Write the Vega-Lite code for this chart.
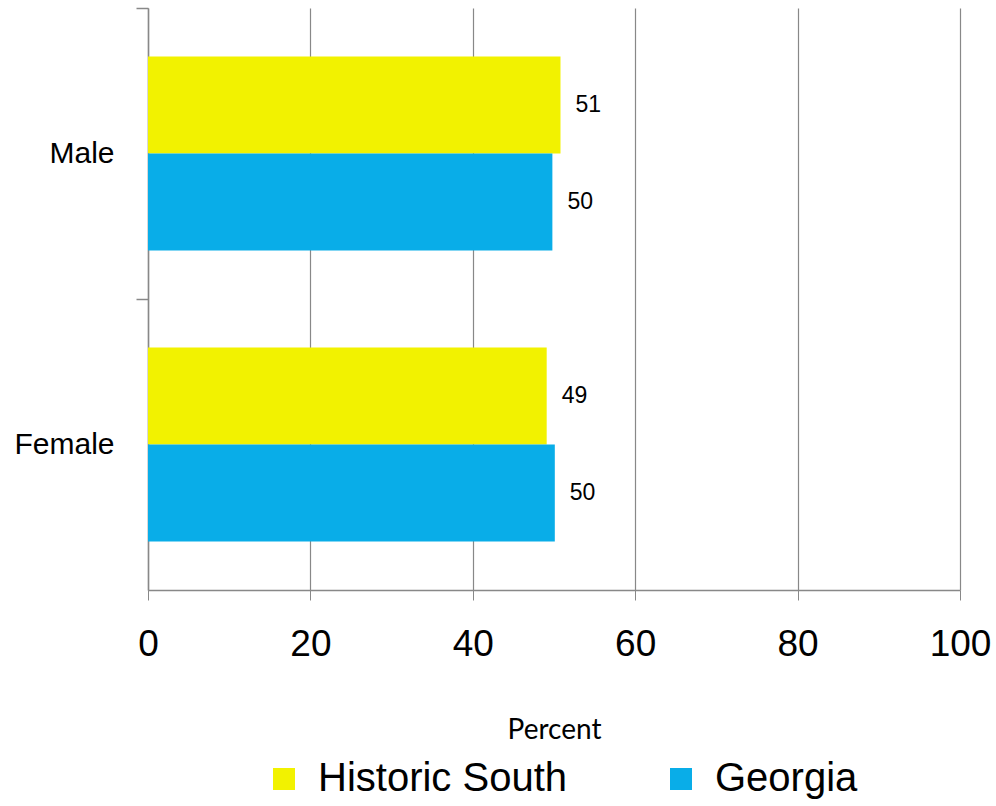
{
  "$schema": "https://vega.github.io/schema/vega-lite/v6.json",
  "width": 812,
  "height": 582,
  "autosize": "none",
  "padding": {"left": 148, "top": 8, "right": 36, "bottom": 216},
  "config": {"view": {"stroke": null}, "font": "Liberation Sans"},
  "data": {"values": [
    {"sex": "Male", "group": "Historic South", "pct": 50.8},
    {"sex": "Male", "group": "Georgia", "pct": 49.8},
    {"sex": "Female", "group": "Historic South", "pct": 49.1},
    {"sex": "Female", "group": "Georgia", "pct": 50.1}
  ]},
  "encoding": {
    "y": {"field": "sex", "type": "nominal", "sort": ["Male", "Female"],
      "scale": {"paddingInner": 0, "paddingOuter": 0},
      "axis": {"title": null, "bandPosition": 0, "tickSize": 12, "labelPadding": 22,
        "labelFont": "Liberation Sans", "labelFontSize": 30, "labelColor": "#000", "domainColor": "#888", "tickColor": "#888", "domainWidth": 1.5, "tickWidth": 1.5, "grid": false}},
    "yOffset": {"field": "group", "type": "nominal", "sort": ["Historic South", "Georgia"],
      "scale": {"paddingInner": 0, "paddingOuter": 0.5}},
    "x": {"field": "pct", "type": "quantitative", "scale": {"domain": [0, 100]},
      "axis": {"values": [0, 20, 40, 60, 80, 100], "grid": true, "gridColor": "#888", "gridWidth": 1.2, "tickSize": 10,
        "tickColor": "#888", "domainColor": "#888", "domainWidth": 1.5, "labelFontSize": 37, "labelColor": "#000", "labelPadding": 26,
        "labelFlush": false, "labelOverlap": false,
        "title": "Percent", "titleFont": "Lato", "titleFontSize": 28, "titleFontWeight": "normal", "titleColor": "#000", "titlePadding": 54}}
  },
  "layer": [
    {"mark": {"type": "bar"},
      "encoding": {"color": {"field": "group", "type": "nominal", "sort": ["Historic South", "Georgia"],
        "scale": {"domain": ["Historic South", "Georgia"], "range": ["#f2f200", "#09ade8"]},
        "legend": {"orient": "none", "legendX": 116, "legendY": 751, "direction": "horizontal", "title": null,
          "symbolType": "square", "symbolSize": 484, "symbolStrokeWidth": 0, "symbolOpacity": 1, "labelFontSize": 40, "labelColor": "#000",
          "labelLimit": 500, "columnPadding": 94, "labelOffset": 14}}}},
    {"mark": {"type": "text", "align": "left", "dx": 15, "fontSize": 23, "color": "#000"},
      "encoding": {"text": {"field": "pct", "type": "quantitative", "format": ".0f"}}}
  ]
}
